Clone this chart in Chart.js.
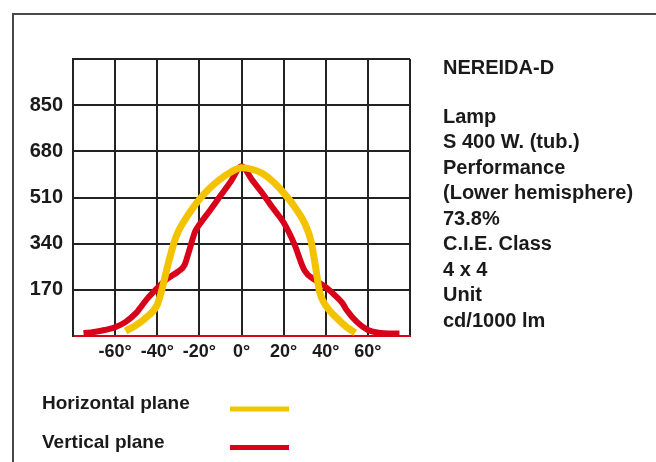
<!DOCTYPE html>
<html>
<head>
<meta charset="utf-8">
<script src="https://cdn.jsdelivr.net/npm/chart.js@4"></script>
<style>
  body { margin: 0; background: #fff; }
  canvas { display: block; }
</style>
</head>
<body>
<canvas id="photoChart" width="656" height="462"></canvas>
<script>
/* ------------------------------
   DATA
--------------------------------*/

const angleLabels = [-60, -40, -20, 0, 20, 40, 60];
const valueLabels = [170, 340, 510, 680, 850];

// horizontal plane (yellow)
const hAngles = [-55, -50, -45, -40, -38, -35, -32, -30, -25, -20, -15, -10, -5, 0, 5, 10, 15, 20, 25, 30, 33, 35, 37, 40, 45, 50, 54];
const hValues = [18, 40, 70, 115, 165, 260, 345, 385, 450, 503, 545, 578, 604, 620, 614, 598, 568, 527, 478, 415, 350, 262, 165, 112, 68, 32, 12];

// vertical plane (red)
const vAngles = [-75, -70, -65, -60, -55, -50, -45, -40, -35, -30, -27, -25, -22, -20, -15, -10, -5, 0, 5, 10, 15, 20, 25, 30, 35, 40, 45, 48, 50, 55, 60, 65, 70, 75];
const vValues = [10, 15, 22, 32, 52, 85, 135, 176, 212, 238, 262, 310, 385, 410, 462, 516, 570, 625, 575, 525, 470, 418, 340, 240, 206, 180, 145, 120, 95, 50, 22, 12, 9, 9];

const seriesNames = ["Horizontal plane", "Vertical plane"];
const seriesColors = ["#f4c300", "#d9021b"];

const infoTitle = "NEREIDA-D";
const infoLines = ["Lamp", "S 400 W. (tub.)", "Performance", "(Lower hemisphere)", "73.8%", "C.I.E. Class", "4 x 4", "Unit", "cd/1000 lm"];

/* ------------------------------
   FRAME, TEXT BLOCK, LEGEND
--------------------------------*/

const FONT = "'Liberation Sans', Arial, sans-serif";
const NARROW = "'Liberation Sans Narrow', 'Liberation Sans', Arial, sans-serif";

const sheetDecor = {
    id: "sheetDecor",
    beforeDraw(chart) {
        const c = chart.ctx;
        c.save();
        c.fillStyle = "#fff";
        c.fillRect(0, 0, chart.width, chart.height);
        c.strokeStyle = "#4a4a4a";
        c.lineWidth = 2;
        c.beginPath();
        c.moveTo(13, chart.height);
        c.lineTo(13, 14);
        c.lineTo(chart.width, 14);
        c.stroke();
        c.restore();
    },
    afterDraw(chart) {
        const c = chart.ctx;
        c.save();
        c.fillStyle = "#1a1a1a";
        c.textBaseline = "middle";
        c.textAlign = "left";

        c.font = "bold 20px " + FONT;
        c.fillText(infoTitle, 443, 68);
        infoLines.forEach((t, i) => c.fillText(t, 443, 117 + i * 25.5));

        // legend
        chart.data.datasets.forEach((ds, i) => {
            const y = 404 + i * 38.5;
            c.fillStyle = "#1a1a1a";
            c.font = "bold 19px " + FONT;
            c.fillText(ds.label, 42, y);
            c.strokeStyle = ds.borderColor;
            c.lineWidth = 5;
            c.beginPath();
            c.moveTo(230, y + 5);
            c.lineTo(289, y + 5);
            c.stroke();
        });
        c.restore();
    }
};

/* ------------------------------
   CHART
--------------------------------*/

const toPoints = (xs, ys) => xs.map((x, i) => ({ x: x, y: ys[i] }));

new Chart(document.getElementById("photoChart"), {
    type: "line",
    data: {
        datasets: [{
            label: seriesNames[0],
            data: toPoints(hAngles, hValues),
            borderColor: seriesColors[0],
            borderWidth: 7,
            pointRadius: 0,
            cubicInterpolationMode: "monotone"
        }, {
            label: seriesNames[1],
            data: toPoints(vAngles, vValues),
            borderColor: seriesColors[1],
            borderWidth: 6,
            pointRadius: 0,
            cubicInterpolationMode: "monotone"
        }]
    },
    options: {
        responsive: false,
        animation: false,
        layout: { padding: { left: 0, top: 59, right: 246, bottom: 96 } },
        plugins: {
            legend: { display: false },
            tooltip: { enabled: false }
        },
        scales: {
            x: {
                type: "linear",
                min: -80,
                max: 80,
                afterFit: s => { s.height = 30; },
                ticks: {
                    stepSize: 20,
                    padding: 5,
                    color: "#1a1a1a",
                    font: { family: NARROW, size: 18, weight: "bold" },
                    callback: v => angleLabels.includes(v) ? v + "°" : ""
                },
                grid: { color: "#222", lineWidth: 2, drawTicks: false },
                border: { color: "#d9021b", width: 2 }
            },
            y: {
                min: 0,
                max: 1020,
                afterFit: s => { s.width = 73; },
                ticks: {
                    stepSize: 170,
                    padding: 10,
                    color: "#1a1a1a",
                    font: { family: NARROW, size: 20, weight: "bold" },
                    callback: v => valueLabels.includes(v) ? String(v) : ""
                },
                grid: {
                    color: ctx => ctx.tick && ctx.tick.value === 0 ? "#d9021b" : "#222",
                    lineWidth: 2,
                    drawTicks: false
                },
                border: { color: "#222", width: 2 }
            }
        }
    },
    plugins: [sheetDecor]
});
</script>
</body>
</html>
